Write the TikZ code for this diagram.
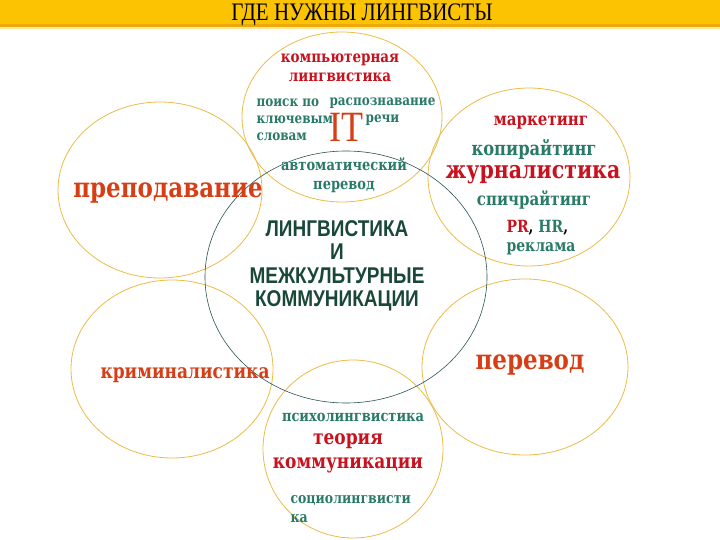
\documentclass[tikz,border=0pt]{standalone}
\usepackage{fontspec}
\setmainfont{DejaVu Serif}
\setsansfont{Liberation Sans}
\newfontfamily\titlefont{Liberation Serif}
\definecolor{bandgold}{RGB}{251,195,2}
\definecolor{banddark}{RGB}{236,168,12}
\definecolor{bandpale}{RGB}{252,232,150}
\definecolor{ringgold}{RGB}{234,188,72}
\definecolor{ringteal}{RGB}{40,82,82}
\definecolor{crimson}{RGB}{200,18,30}
\definecolor{flame}{RGB}{214,62,22}
\definecolor{seateal}{RGB}{42,122,104}
\definecolor{darkgreen}{RGB}{26,72,56}
\newcommand{\fsz}[2]{\fontsize{#1}{#2}\selectfont}
\tikzset{
  ring/.style={draw=ringgold, line width=0.8pt},
  tall/.style={yscale=1.2, transform shape},
  hot/.style 2 args={tall, text=crimson, font=\bfseries\fsz{#1}{#2}},
  warm/.style 2 args={tall, text=flame, font=\bfseries\fsz{#1}{#2}},
  cool/.style 2 args={tall, text=seateal, font=\bfseries\fsz{#1}{#2}},
}
\begin{document}
\begin{tikzpicture}[x=1pt,y=-1pt]
  \useasboundingbox (0,0) rectangle (720,540);
  % title band
  \fill[bandgold] (0,0) rectangle (720,24);
  \fill[banddark] (0,24) rectangle (720,27);
  \fill[bandpale] (0,27) rectangle (720,29);
  \node[tall, font=\titlefont\fsz{21}{24}] (title) at (362,15) {ГДЕ НУЖНЫ ЛИНГВИСТЫ};
  % rings
  \draw[ring] (342,117) ellipse (100 and 85);
  \draw[ring] (160,190) ellipse (102 and 88);
  \draw[ring] (529,177) ellipse (101 and 89);
  \draw[ring] (172,369) ellipse (101 and 89);
  \draw[ring] (525,367) ellipse (103 and 88);
  \draw[ring] (353,449) ellipse (90 and 89);
  \draw[draw=ringteal, line width=0.6pt] (346,277) ellipse (141 and 126);
  % top ring
  \node[hot={13.5}{16}, align=center] (complng) at (340,67.5) {компьютерная\\лингвистика};
  \node[cool={12}{14}, align=left, anchor=west] (search) at (253,120) {поиск по\\ключевым\\словам};
  \node[cool={12}{14}, align=center] (speech) at (382.5,111.5) {распознавание\\речи};
  \node[tall, text=flame, font=\titlefont\fsz{36}{36}] (it) at (346,127) {IT};
  \node[cool={13}{16}, align=center] (mt) at (344,175.5) {автоматический\\перевод};
  % left ring
  \node[warm={23}{26}] (teach) at (168,193) {преподавание};
  % right ring
  \node[hot={15}{18}] (market) at (541,123) {маркетинг};
  \node[cool={16.3}{18}] (copy) at (534,150) {копирайтинг};
  \node[hot={20.5}{24}] (journ) at (533,175) {журналистика};
  \node[cool={15}{18}] (speechw) at (534,200) {спичрайтинг};
  \node[cool={14}{16}, align=left, anchor=west] (pr) at (503,237.5)
    {\textcolor{crimson}{PR}\textcolor{black}{,} HR\textcolor{black}{,}\\реклама};
  % centre
  \node[tall, text=darkgreen, align=center, font=\sffamily\bfseries\fsz{19}{19.5}] (core) at (337,266)
    {ЛИНГВИСТИКА\\И\\МЕЖКУЛЬТУРНЫЕ\\КОММУНИКАЦИИ};
  % lower rings
  \node[warm={17}{20}] (crime) at (185,375) {криминалистика};
  \node[warm={23}{26}] (transl) at (530,365) {перевод};
  \node[cool={13}{16}] (psy) at (353,417) {психолингвистика};
  \node[hot={17}{19.5}, align=center] (comm) at (348,453.5) {теория\\коммуникации};
  \node[cool={12.5}{16}, align=left, anchor=west] (socio) at (287,509.5) {социолингвисти\\ка};
\end{tikzpicture}
\end{document}
